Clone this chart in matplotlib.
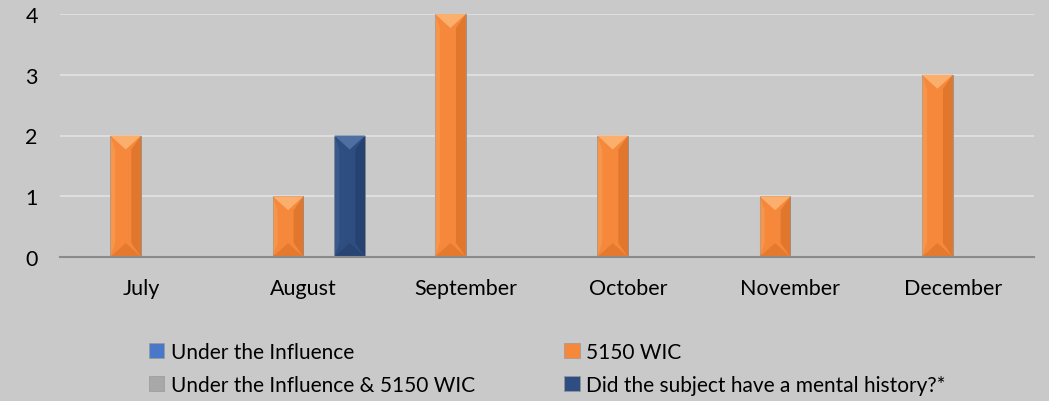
import matplotlib.pyplot as plt
from matplotlib.patches import Polygon, Patch

months = ['July', 'August', 'September', 'October', 'November', 'December']
under_influence = [0, 0, 0, 0, 0, 0]
wic_5150 = [2, 1, 4, 2, 1, 3]
influence_and_wic = [0, 0, 0, 0, 0, 0]
mental_history = [0, 2, 0, 0, 0, 0]

labels = ['Under the Influence', '5150 WIC',
          'Under the Influence & 5150 WIC', 'Did the subject have a mental history?*']
# base, light (top), dark (right side)
colors = [('#4a78c8', '#6f97dc', '#33599c'),
          ('#f5883a', '#fcae6c', '#d26a22'),
          ('#a8a8a8', '#c4c4c4', '#848484'),
          ('#2e4d80', '#4f6fa3', '#213a63')]
bg = '#c9c9c9'

plt.rcParams['font.family'] = ['Lato', 'DejaVu Sans']

fig = plt.figure(figsize=(10.49, 4.02), dpi=100, facecolor=bg)
ax = fig.add_axes([60/1049, 1 - 258/402, (1034-60)/1049, (258-15)/402])
ax.set_facecolor(bg)

series = [under_influence, wic_5150, influence_and_wic, mental_history]
w = 0.19
x = list(range(len(months)))
px_per_unit = 243 / 4.0
for i, vals in enumerate(series):
    base, light, dark = colors[i]
    offs = (i - 1.5) * w
    bars = ax.bar([xi + offs for xi in x], vals, width=w, color=base,
                  edgecolor='#8f8f8f', linewidth=0.6, zorder=3)
    for b in bars:
        h = b.get_height()
        if h <= 0:
            continue
        x0 = b.get_x()
        x1 = x0 + b.get_width()
        xc = (x0 + x1) / 2
        d = min(14 / px_per_unit, h / 2)
        s = b.get_width() * 0.32
        # darker right side
        ax.add_patch(Polygon([(x1 - s, d), (x1 - s, h - d), (x1, h), (x1, 0)],
                             closed=True, facecolor=dark, edgecolor='none', alpha=0.55, zorder=4))
        # lighter left strip
        ax.add_patch(Polygon([(x0, 0), (x0, h), (x0 + s * 0.5, h - d), (x0 + s * 0.5, d)],
                             closed=True, facecolor=light, edgecolor='none', alpha=0.35, zorder=4))
        # top bevel
        ax.add_patch(Polygon([(x0, h), (x1, h), (xc, h - d)],
                             closed=True, facecolor=light, edgecolor='none', zorder=5))
        # bottom bevel
        ax.add_patch(Polygon([(x0, 0), (x1, 0), (xc, d)],
                             closed=True, facecolor=dark, edgecolor='none', alpha=0.45, zorder=5))

ax.set_xlim(-0.5, len(months) - 0.5)
ax.set_ylim(0, 4)
ax.set_yticks([0, 1, 2, 3, 4])
ax.set_xticks(x)
ax.set_xticklabels(months)
ax.yaxis.grid(True, color='#dedede', linewidth=1.5, zorder=0)
ax.set_axisbelow(True)
for sp in ['top', 'right', 'left']:
    ax.spines[sp].set_visible(False)
ax.spines['bottom'].set_color('#8a8a8a')
ax.spines['bottom'].set_linewidth(1.5)
ax.spines['bottom'].set_zorder(6)
ax.tick_params(axis='both', length=0, labelsize=15.5, colors='black')
ax.tick_params(axis='y', pad=16)
ax.tick_params(axis='x', pad=15)

order = [0, 2, 1, 3]
handles = [Patch(facecolor=colors[i][0], edgecolor='#999999', linewidth=0.5) for i in order]
fig.legend(handles, [labels[i] for i in order], ncol=2, loc='upper left',
           bbox_to_anchor=(130/1049, 1 - 324/402), frameon=False, fontsize=15,
           handlelength=0.75, handleheight=0.75, handletextpad=0.3,
           columnspacing=4.3, labelspacing=0.62)

fig.savefig('out.png', dpi=100, facecolor=bg)
